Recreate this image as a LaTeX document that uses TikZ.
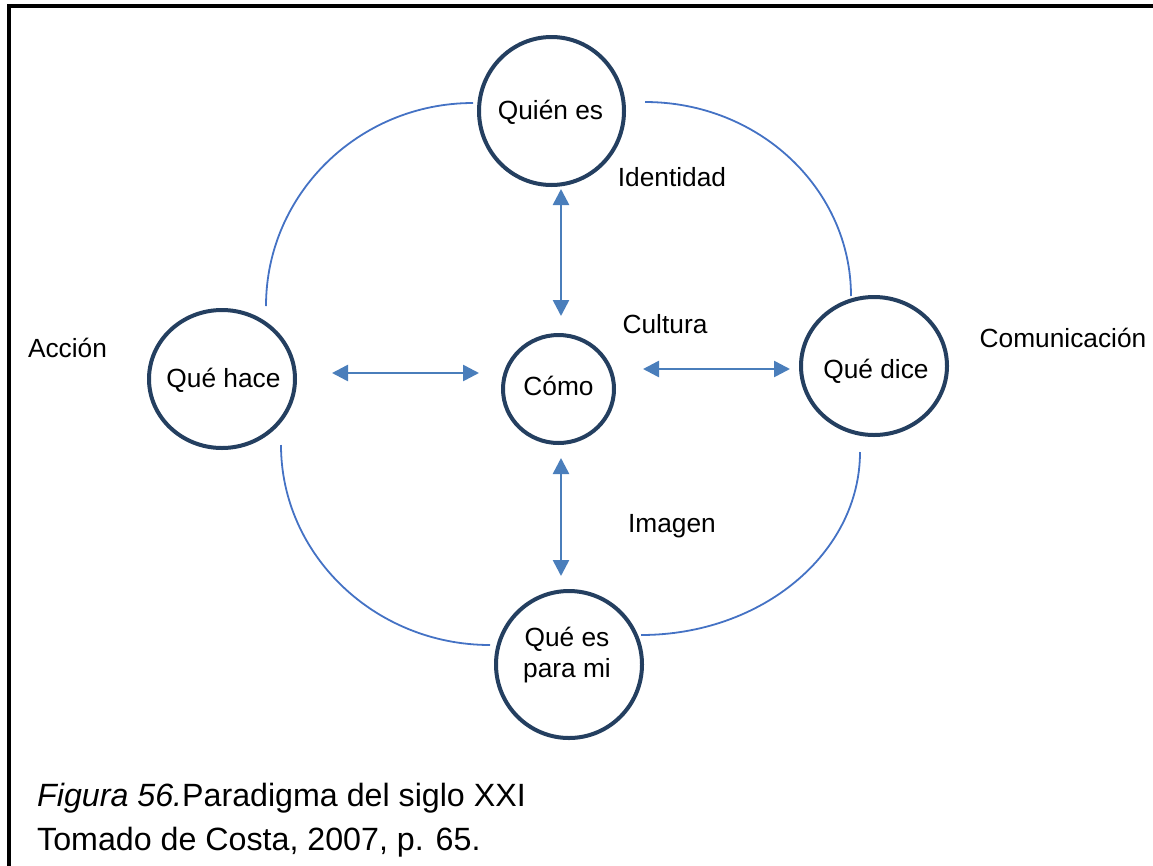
\documentclass[tikz,border=0pt]{standalone}
\usepackage{fontspec}
\setmainfont{Liberation Sans}
\usetikzlibrary{shapes.geometric,arrows.meta,calc}
\definecolor{ringnavy}{HTML}{243F60}
\definecolor{arcblue}{HTML}{4472C4}
\definecolor{arrowblue}{HTML}{4A7EBB}
\begin{document}
\begin{tikzpicture}[x=1pt,y=-1pt,
  ring/.style={draw=ringnavy,line width=4pt,ellipse,inner sep=0pt,fill=white},
  lbl/.style={inner sep=0pt,anchor=base,font=\fontsize{26.3}{30.2}\selectfont,align=center},
  arcline/.style={draw=arcblue,line width=1.8pt},
  twoway/.style={draw=arrowblue,line width=2.6pt,{Triangle[length=16pt,width=16pt]}-{Triangle[length=16pt,width=16pt]}},
  caption/.style={inner sep=0pt,anchor=base west,font=\fontsize{32.2}{44}\selectfont}]
\useasboundingbox (0,0) rectangle (1153,865);
\clip (0,0) rectangle (1153,865);

% frame (only its top and left edges fall on the page)
\draw[line width=4pt,line join=miter] (8.7,900) -- (8.7,6) -- (1200,6);

% the five ellipses
\node[ring,minimum width=145pt,minimum height=148pt] (quien) at (551.5,111) {};
\node[ring,minimum width=111pt,minimum height=108pt] (como) at (558.5,389) {};
\node[ring,minimum width=146pt,minimum height=138pt] (hace) at (222,379) {};
\node[ring,minimum width=146pt,minimum height=138pt] (dice) at (874,366) {};
\node[ring,minimum width=146pt,minimum height=147pt] (para) at (569,664.5) {};

% texts inside the ellipses (base = baseline of the last line)
\node[lbl] (quient) at (550.5,119) {Quién es};
\node[lbl] (comot) at (558.5,395) {Cómo};
\node[lbl] (hacet) at (223.5,387) {Qué hace};
\node[lbl] (dicet) at (876,378) {Qué dice};
\node[lbl] (parat) at (567,677) {Qué es\\para mi};

% outer arcs joining the ellipses
\draw[arcline] ($(hace)+(44,-73)$) .. controls +(0,-112) and +(-114,0) .. ($(quien)+(-78.5,-8)$);
\draw[arcline] ($(quien)+(93.5,-9)$) .. controls +(114,0) and +(0,-107) .. ($(dice)+(-23,-70)$);
\draw[arcline] ($(dice)+(-14,86)$) .. controls +(0,101) and +(121,0) .. ($(para)+(72,-29.5)$);
\draw[arcline] ($(hace)+(59,66)$) .. controls +(0,110) and +(-115,0) .. ($(para)+(-79,-19.5)$);

% double arrows to the centre
\draw[twoway] ($(quien)+(9.5,78)$) -- ($(como)+(2.5,-73)$);
\draw[twoway] ($(como)+(2.5,69)$) -- ($(para)+(-8,-88.5)$);
\draw[twoway] ($(hace)+(110,-6)$) -- ($(como)+(-79.5,-16)$);
\draw[twoway] ($(como)+(84.5,-20)$) -- ($(dice)+(-84,3)$);

% side labels
\node[lbl] (identidad) at (672,186) {Identidad};
\node[lbl] (cultura) at (665,333) {Cultura};
\node[lbl] (accion) at (67.5,357) {Acción};
\node[lbl] (comunicacion) at (1063,347) {Comunicación};
\node[lbl] (imagen) at (672,532) {Imagen};

% caption
\node[caption] (cap1) at (37,806) {\textit{Figura 56.}Paradigma del siglo XXI};
\node[caption] (cap2) at (37,850) {Tomado de Costa, 2007, p. 65.};
\end{tikzpicture}
\end{document}
